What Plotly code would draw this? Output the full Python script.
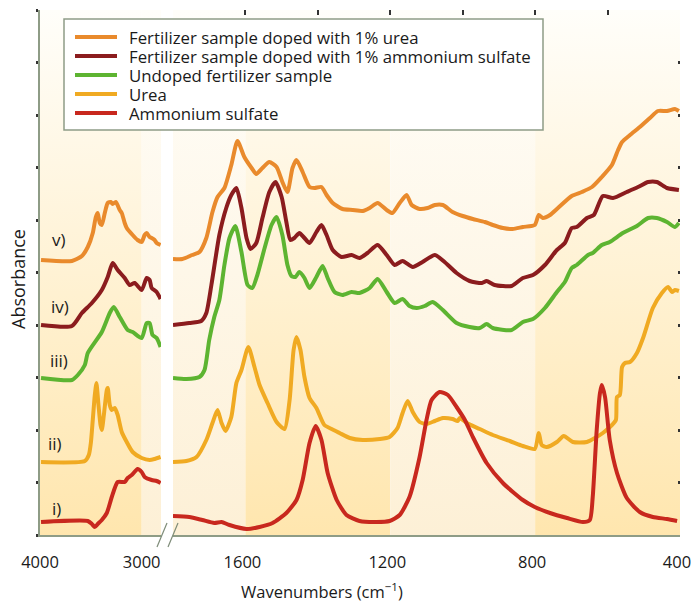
import plotly.graph_objects as go

# ---------------- data (wavenumber cm-1, absorbance a.u.) ----------------
# v) Fertilizer sample doped with 1% urea
v_hi = [(3990,2.75),(3686,2.74),(3588,2.79),(3530,2.88),(3481,3.02),(3451,3.18),(3432,3.22),(3412,3.12),(3392,3.10),(3363,3.22),(3334,3.32),(3304,3.33),(3285,3.31),(3255,3.33),(3216,3.25),(3196,3.22),(3167,3.12),(3147,3.07),(3089,3.00),(3040,2.95),(3000,2.93),(2971,3.00),(2951,3.02),(2922,2.98),(2902,2.97),(2873,2.95),(2853,2.92),(2814,2.90)]
v_lo = [(1800,2.76),(1774,2.76),(1747,2.80),(1727,2.83),(1708,2.97),(1691,3.23),(1677,3.38),(1658,3.47),(1639,3.70),(1622,3.94),(1603,3.78),(1583,3.67),(1570,3.61),(1553,3.67),(1534,3.73),(1514,3.68),(1498,3.53),(1484,3.43),(1470,3.67),(1459,3.75),(1442,3.63),(1423,3.48),(1409,3.47),(1390,3.48),(1376,3.40),(1359,3.32),(1332,3.26),(1304,3.25),(1276,3.24),(1257,3.27),(1235,3.32),(1210,3.25),(1194,3.22),(1174,3.32),(1155,3.40),(1141,3.30),(1119,3.26),(1097,3.27),(1077,3.30),(1055,3.30),(1028,3.23),(1000,3.19),(972,3.16),(939,3.13),(917,3.10),(889,3.07),(862,3.06),(834,3.08),(801,3.10),(790,3.20),(779,3.17),(759,3.20),(737,3.27),(699,3.39),(671,3.43),(643,3.48),(616,3.58),(588,3.70),(571,3.85),(560,3.93),(538,4.00),(511,4.08),(483,4.17),(461,4.24),(436,4.24),(414,4.26),(403,4.24)]

# iv) Fertilizer sample doped with 1% ammonium sulfate
iv_hi = [(3990,2.10),(3686,2.09),(3588,2.22),(3490,2.32),(3392,2.45),(3334,2.58),(3285,2.72),(3236,2.65),(3167,2.57),(3118,2.50),(3069,2.52),(3000,2.45),(2951,2.57),(2922,2.55),(2902,2.47),(2853,2.43),(2814,2.36)]
iv_lo = [(1800,2.10),(1755,2.12),(1722,2.14),(1708,2.22),(1694,2.50),(1672,3.00),(1653,3.27),(1639,3.40),(1625,3.47),(1611,3.27),(1597,2.97),(1586,2.86),(1570,2.92),(1553,3.17),(1534,3.43),(1517,3.53),(1500,3.38),(1487,3.13),(1476,2.95),(1465,2.97),(1451,3.02),(1437,2.97),(1423,2.92),(1404,3.03),(1390,3.10),(1376,3.00),(1359,2.85),(1335,2.78),(1307,2.80),(1285,2.77),(1263,2.82),(1235,2.90),(1210,2.80),(1188,2.70),(1166,2.74),(1138,2.68),(1111,2.73),(1077,2.80),(1050,2.73),(1017,2.62),(981,2.54),(947,2.52),(934,2.54),(912,2.50),(865,2.49),(834,2.57),(806,2.60),(773,2.70),(740,2.85),(718,2.92),(699,3.07),(685,3.08),(657,3.17),(638,3.20),(613,3.39),(585,3.37),(547,3.43),(516,3.48),(488,3.53),(464,3.53),(436,3.47),(403,3.45)]

# iii) Undoped fertilizer sample
iii_hi = [(3990,1.57),(3686,1.55),(3628,1.60),(3559,1.70),(3530,1.82),(3392,2.03),(3314,2.22),(3275,2.28),(3216,2.18),(3138,2.05),(3089,2.03),(3000,1.97),(2951,2.12),(2922,2.12),(2893,2.00),(2853,1.97),(2814,1.88)]
iii_lo = [(1800,1.57),(1763,1.56),(1727,1.58),(1713,1.65),(1700,1.95),(1686,2.18),(1672,2.35),(1658,2.70),(1644,2.97),(1628,3.09),(1611,2.83),(1594,2.50),(1581,2.47),(1567,2.60),(1547,2.87),(1528,3.10),(1514,3.18),(1498,3.00),(1484,2.70),(1473,2.59),(1462,2.58),(1451,2.63),(1437,2.57),(1423,2.47),(1404,2.58),(1387,2.69),(1373,2.57),(1354,2.43),(1332,2.40),(1307,2.43),(1285,2.42),(1257,2.47),(1235,2.56),(1210,2.43),(1188,2.32),(1166,2.36),(1147,2.29),(1127,2.27),(1105,2.29),(1083,2.33),(1055,2.25),(1017,2.12),(981,2.08),(953,2.07),(934,2.11),(917,2.07),(865,2.05),(834,2.13),(806,2.16),(773,2.27),(740,2.43),(718,2.53),(699,2.67),(685,2.70),(654,2.80),(641,2.82),(616,2.90),(594,2.93),(558,3.02),(519,3.09),(488,3.17),(464,3.17),(436,3.13),(414,3.08),(403,3.12)]

# ii) Urea
ii_hi = [(3990,0.73),(3559,0.74),(3520,0.80),(3500,0.92),(3481,1.15),(3461,1.40),(3445,1.52),(3425,1.30),(3405,1.10),(3392,1.05),(3372,1.20),(3343,1.45),(3334,1.47),(3314,1.30),(3294,1.25),(3265,1.27),(3236,1.20),(3196,1.03),(3147,0.93),(3089,0.83),(3000,0.77),(2922,0.75),(2873,0.76),(2814,0.78)]
ii_lo = [(1800,0.73),(1763,0.74),(1735,0.78),(1708,0.95),(1691,1.12),(1677,1.25),(1666,1.12),(1655,1.04),(1639,1.18),(1625,1.52),(1611,1.65),(1592,1.88),(1575,1.68),(1561,1.50),(1539,1.32),(1514,1.13),(1492,1.06),(1478,1.35),(1467,1.85),(1459,1.98),(1448,1.85),(1437,1.58),(1423,1.37),(1404,1.27),(1382,1.10),(1362,1.06),(1340,1.02),(1312,0.97),(1276,0.95),(1229,0.96),(1202,0.98),(1180,1.07),(1166,1.22),(1152,1.34),(1138,1.23),(1119,1.13),(1100,1.11),(1077,1.14),(1055,1.17),(1028,1.16),(1014,1.14),(1008,1.17),(989,1.12),(953,1.06),(917,1.00),(870,0.94),(834,0.89),(801,0.86),(790,1.02),(782,0.90),(768,0.88),(740,0.93),(721,0.99),(696,0.93),(657,0.93),(635,0.97),(613,1.02),(588,1.10),(577,1.15),(574,1.38),(566,1.40),(560,1.68),(552,1.72),(538,1.73),(519,1.82),(502,1.97),(475,2.27),(450,2.42),(433,2.48),(422,2.43),(414,2.45),(403,2.44)]

# i) Ammonium sulfate
i_hi = [(3990,0.13),(3530,0.14),(3490,0.11),(3461,0.08),(3432,0.11),(3392,0.15),(3343,0.22),(3294,0.38),(3236,0.53),(3167,0.53),(3138,0.57),(3098,0.60),(3040,0.66),(3000,0.63),(2971,0.58),(2902,0.55),(2853,0.54),(2814,0.52)]
i_lo = [(1800,0.19),(1755,0.18),(1719,0.15),(1686,0.12),(1666,0.13),(1644,0.10),(1597,0.06),(1561,0.08),(1525,0.12),(1487,0.22),(1459,0.35),(1442,0.55),(1423,0.92),(1406,1.09),(1390,0.95),(1373,0.62),(1348,0.35),(1321,0.20),(1285,0.14),(1238,0.13),(1202,0.14),(1174,0.20),(1147,0.38),(1119,0.78),(1100,1.15),(1086,1.35),(1064,1.43),(1041,1.40),(1017,1.28),(994,1.15),(972,0.98),(934,0.72),(889,0.52),(834,0.35),(801,0.28),(759,0.22),(712,0.17),(668,0.13),(649,0.15),(641,0.38),(630,1.05),(621,1.42),(616,1.50),(607,1.38),(594,0.95),(574,0.62),(547,0.37),(511,0.23),(475,0.18),(436,0.16),(408,0.14)]

series_names = ["Fertilizer sample doped with 1% urea",
                "Fertilizer sample doped with 1% ammonium sulfate",
                "Undoped fertilizer sample",
                "Urea",
                "Ammonium sulfate"]
series_hi = [v_hi, iv_hi, iii_hi, ii_hi, i_hi]
series_lo = [v_lo, iv_lo, iii_lo, ii_lo, i_lo]
series_colors = ["#E98A2C", "#8B1C1E", "#5DB431", "#F0AA22", "#C8281E"]
curve_labels = ["v)", "iv)", "iii)", "ii)", "i)"]

hi_range = [4000, 2810]
lo_range = [1800, 400]
hi_ticks = [4000, 3000]
lo_ticks = [1600, 1200, 800, 400]
top_ticks = [1600, 1400, 1200, 1000, 800, 600]
y_range = [0, 5.25]

# shaded wavenumber regions: (start, end, shade)
bands_hi = [(4000, 3000, "dark"), (3000, 2810, "light")]
bands_lo = [(1800, 1600, "light"), (1600, 1200, "dark"), (1200, 800, "light"), (800, 400, "dark")]
shade_bottom = {"dark": "#FFE6AE", "light": "#FDF0D6"}
shade_top = "#FFFEFA"

AXIS_COL = "#8E9C86"
FONT = "Open Sans"
TXT = "#1a1a1a"
LW = 4

# plot-area geometry in pixels (for paper-coordinate placement of decorations)
PW, PH = 640, 525
def px(x):
    return (x - 40) / PW
def py(y):
    return (535 - y) / PH

fig = go.Figure()

def add_band(a, b, shade, xa, ya):
    fig.add_trace(go.Scatter(
        x=[a, b, b, a, a], y=[y_range[0], y_range[0], y_range[1], y_range[1], y_range[0]],
        mode="lines", line=dict(width=0), fill="toself",
        fillgradient=dict(type="vertical",
                          colorscale=[[0, shade_bottom[shade]], [1, shade_top]]),
        xaxis=xa, yaxis=ya, showlegend=False, hoverinfo="skip"))

for a, b, s in bands_hi:
    add_band(a, b, s, "x", "y")
for a, b, s in bands_lo:
    add_band(a, b, s, "x2", "y2")

for name, hi, lo, col in zip(series_names, series_hi, series_lo, series_colors):
    fig.add_trace(go.Scatter(x=[p[0] for p in hi], y=[p[1] for p in hi], mode="lines",
                             line=dict(color=col, width=LW, shape="spline", smoothing=0.6),
                             name=name, legendgroup=name, showlegend=False,
                             xaxis="x", yaxis="y"))
    fig.add_trace(go.Scatter(x=[p[0] for p in lo], y=[p[1] for p in lo], mode="lines",
                             line=dict(color=col, width=LW, shape="spline", smoothing=0.6),
                             name=name, legendgroup=name, showlegend=False,
                             xaxis="x2", yaxis="y2"))

# empty trace to register the top tick axis
fig.add_trace(go.Scatter(x=[], y=[], xaxis="x3", yaxis="y2", showlegend=False, hoverinfo="skip"))

tickfont = dict(family=FONT, size=16.5, color=TXT)
fig.update_layout(
    width=692, height=604,
    margin=dict(l=40, r=12, t=10, b=69, autoexpand=False),
    paper_bgcolor="white", plot_bgcolor="rgba(0,0,0,0)",
    font=dict(family=FONT, size=16, color=TXT),
    showlegend=False,
    xaxis=dict(domain=[0, 121 / PW], range=hi_range, tickvals=hi_ticks, ticks="",
               showgrid=False, zeroline=False, showline=True, linecolor=AXIS_COL,
               linewidth=2, tickfont=tickfont, anchor="y", ticklabelstandoff=11,
               ticklabeloverflow="allow", automargin=False),
    xaxis2=dict(domain=[133 / PW, 1], range=lo_range, tickvals=lo_ticks, ticks="",
                showgrid=False, zeroline=False, showline=True, linecolor=AXIS_COL,
                linewidth=2, tickfont=tickfont, anchor="y2", ticklabelstandoff=11,
                ticklabelshift=3, ticklabeloverflow="allow", automargin=False),
    xaxis3=dict(overlaying="x2", side="top", range=lo_range, tickvals=top_ticks,
                ticks="inside", ticklen=5, tickwidth=1.5, tickcolor="#333",
                showticklabels=False, showgrid=False, zeroline=False, showline=False,
                anchor="y2", automargin=False),
    yaxis=dict(range=y_range, dtick=0.525, tick0=0, ticks="outside", ticklen=2,
               tickwidth=3, tickcolor="#333", showticklabels=False, showgrid=False,
               zeroline=False, showline=True, linecolor=AXIS_COL, linewidth=2, anchor="x"),
    yaxis2=dict(range=y_range, dtick=0.525, tick0=0, ticks="inside", ticklen=2,
                tickwidth=3, tickcolor="#333", showticklabels=False, showgrid=False,
                zeroline=False, showline=False, side="right", anchor="x2",
                matches="y"),
)

# legend box (drawn as shapes + text so that row spacing matches)
fig.add_shape(type="rect", xref="paper", yref="paper",
              x0=px(64), x1=px(543), y0=py(130), y1=py(19),
              fillcolor="white", line=dict(color=AXIS_COL, width=1.5), layer="above")
row_y = [37, 56, 75, 94, 113]
for name, col, ry in zip(series_names, series_colors, row_y):
    fig.add_shape(type="line", xref="paper", yref="paper",
                  x0=px(75), x1=px(117), y0=py(ry), y1=py(ry),
                  line=dict(color=col, width=4), layer="above")
    fig.add_annotation(text=name, xref="paper", yref="paper", x=px(128), y=py(ry + 0.5),
                       xanchor="left", yanchor="middle", showarrow=False, borderpad=0,
                       font=dict(family=FONT, size=16.8, color=TXT))

# axis-break marks
for x0 in [157, 168]:
    fig.add_shape(type="line", xref="paper", yref="paper",
                  x0=px(x0), x1=px(x0 + 10), y0=py(547), y1=py(523),
                  line=dict(color="#7E8C78", width=1.2))

# curve labels
label_pos = [(59, 239), (60, 306), (59, 360), (55, 443), (56, 508)]
for lab, (lx, ly) in zip(curve_labels, label_pos):
    fig.add_annotation(text=lab, xref="paper", yref="paper", x=px(lx), y=py(ly),
                       xanchor="center", yanchor="middle",
                       showarrow=False, font=dict(family=FONT, size=17, color=TXT))

fig.add_annotation(text="Absorbance", xref="paper", yref="paper", x=px(18), y=py(279),
                   xanchor="center", yanchor="middle",
                   textangle=-90, showarrow=False,
                   font=dict(family=FONT, size=18, color=TXT))
fig.add_annotation(text="Wavenumbers (cm<sup>\u22121</sup>)", xref="paper", yref="paper",
                   x=px(322), y=py(591), xanchor="center", yanchor="middle", showarrow=False,
                   font=dict(family=FONT, size=16.5, color=TXT))

fig.write_html("out.html", config={"displayModeBar": False},
               post_script="document.body.style.margin='0px';")
